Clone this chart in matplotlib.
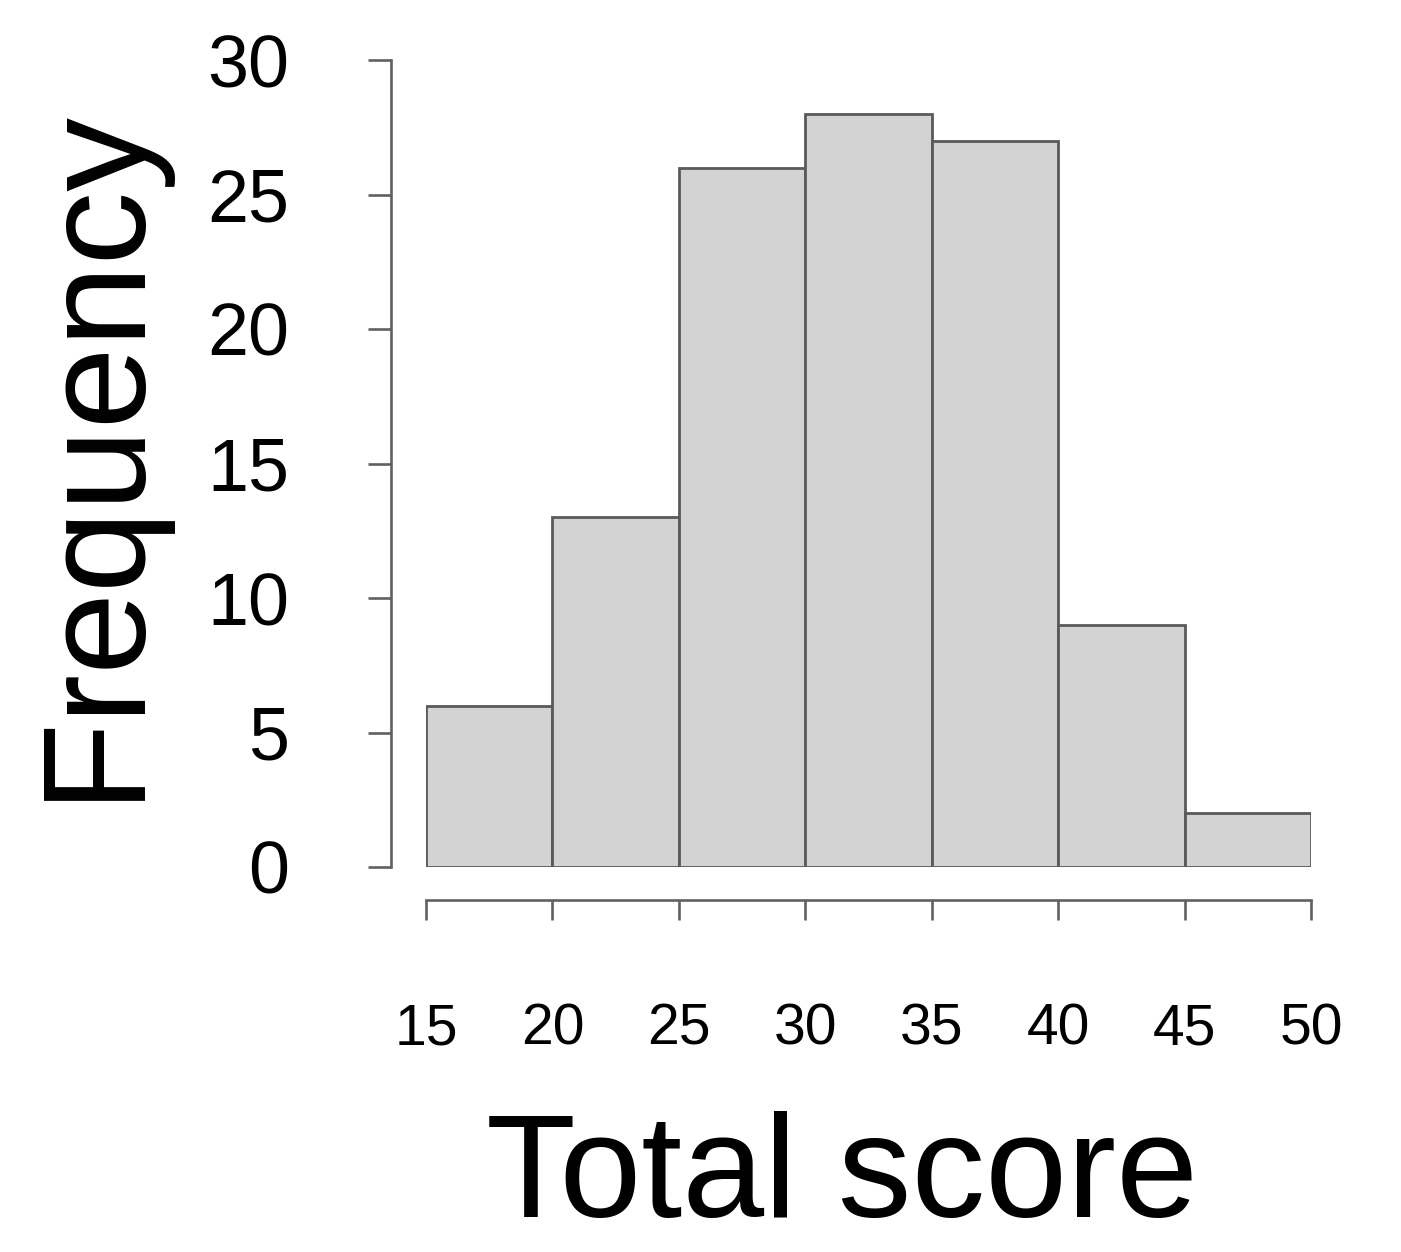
import matplotlib
matplotlib.use("Agg")
import matplotlib.pyplot as plt
import numpy as np

bin_edges = [15, 20, 25, 30, 35, 40, 45, 50]
counts = [6, 13, 26, 28, 27, 9, 2]
y_ticks = [0, 5, 10, 15, 20, 25, 30]
x_ticks = [15, 20, 25, 30, 35, 40, 45, 50]

plt.rcParams['font.family'] = ['Liberation Sans', 'DejaVu Sans']

W, H = 1401, 1252
fig = plt.figure(figsize=(W / 100, H / 100), dpi=100)
ax = fig.add_axes([426 / W, (H - 867) / H, 885 / W, 807 / H])

edge = '#5a5a5a'
ax.bar(bin_edges[:-1], counts, width=np.diff(bin_edges), align='edge',
       color='#d3d3d3', edgecolor=edge, linewidth=2.0)

ax.set_xlim(15, 50)
ax.set_ylim(0, 30)
for s in ['top', 'right']:
    ax.spines[s].set_visible(False)
ax.spines['left'].set_position(('outward', 25))
ax.spines['bottom'].set_position(('outward', 24))
ax.spines['left'].set_bounds(0, 30)
ax.spines['bottom'].set_bounds(15, 50)
for s in ['left', 'bottom']:
    ax.spines[s].set_color('#606060')
    ax.spines[s].set_linewidth(1.9)

ax.set_yticks(y_ticks)
ax.set_xticks(x_ticks)
ax.tick_params(axis='y', length=16.5, width=1.9, color='#606060', pad=57, labelsize=53)
ax.tick_params(axis='x', length=14.4, width=1.9, color='#606060', pad=59, labelsize=41)

fig.text(96 / W, 1 - 452 / H, 'Frequency', rotation=90, ha='center', va='center', fontsize=106)
fig.text(842 / W, 1 - 1217 / H, 'Total score', ha='center', va='baseline', fontsize=106)

fig.savefig('out.png', dpi=100)
